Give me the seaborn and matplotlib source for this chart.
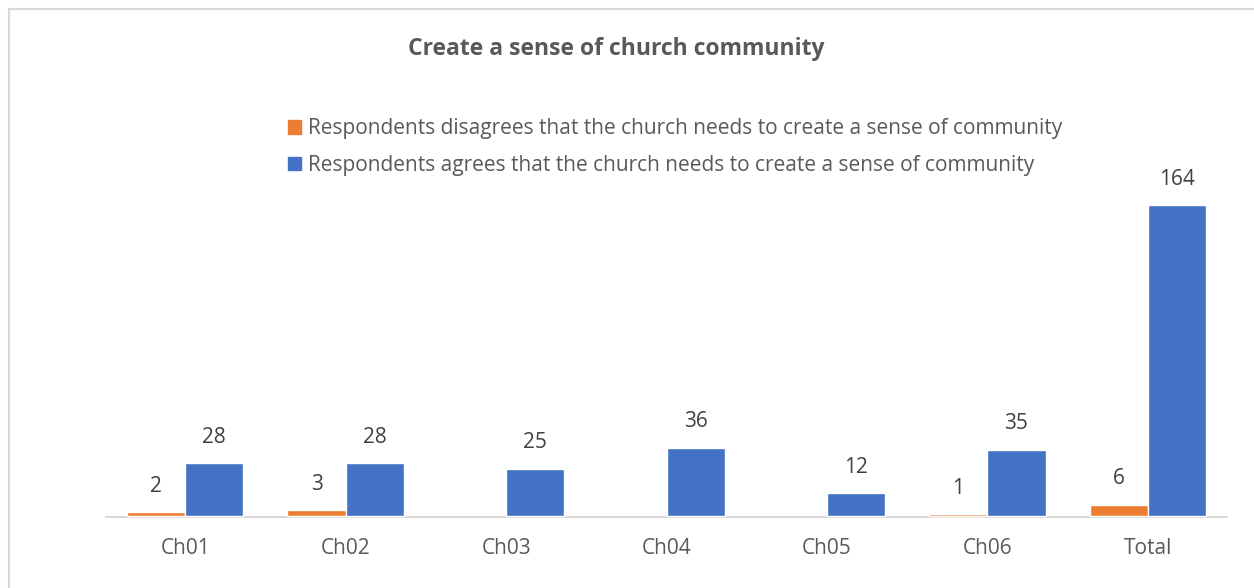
import matplotlib
matplotlib.use("Agg")
import matplotlib.pyplot as plt
import seaborn as sns
import pandas as pd
import numpy as np
from matplotlib.patches import Rectangle

categories = ["Ch01", "Ch02", "Ch03", "Ch04", "Ch05", "Ch06", "Total"]
disagree = [2, 3, np.nan, np.nan, np.nan, 1, 6]
agree = [28, 28, 25, 36, 12, 35, 164]
series_names = [
    "Respondents disagrees that the church needs to create a sense of community",
    "Respondents agrees that the church needs to create a sense of community",
]
title = "Create a sense of church community"

df = pd.DataFrame({
    "cat": categories * 2,
    "val": disagree + agree,
    "series": [series_names[0]] * len(categories) + [series_names[1]] * len(categories),
})

sns.set_theme(style="white")
plt.rcParams["font.family"] = ["Open Sans", "DejaVu Sans"]
text_color = "#595959"

fig = plt.figure(figsize=(12.54, 5.88), dpi=100)
fig.patches.append(Rectangle((9 / 1254, -0.1), 1.2, 1.1 - 9 / 588, transform=fig.transFigure,
                             fill=False, edgecolor="#d9d9d9", linewidth=1.5))
ax = fig.add_axes([105 / 1254, 70.5 / 588, (1228 - 105) / 1254, (516 - 180) / 588])

palette = {series_names[0]: "#ED7D31", series_names[1]: "#4472C4"}
sns.barplot(data=df, x="cat", y="val", hue="series", hue_order=series_names,
            order=categories, palette=palette, width=0.725, ax=ax,
            saturation=1, legend=False, errorbar=None, zorder=2)

for cont in ax.containers:
    labels = ["" if np.isnan(v) else f"{int(v)}" for v in cont.datavalues]
    ax.bar_label(cont, labels=labels, padding=11, fontsize=15, color="#404040")

ax.set_ylim(-0.8, 176.4)
ax.set_xlim(-0.5, len(categories) - 0.5)
ax.axhline(-0.45, color="#d9d9d9", linewidth=1.5, zorder=1)
ax.set_xlabel("")
ax.set_ylabel("")
ax.set_yticks([])
for s in ["top", "left", "right", "bottom"]:
    ax.spines[s].set_visible(False)
ax.tick_params(axis="x", labelsize=15, labelcolor=text_color, length=0, pad=15)

fig.text(616 / 1254, 1 - 49 / 588, title, ha="center", va="center", fontsize=16.5,
         fontweight="bold", color=text_color)

handles = [Rectangle((0, 0), 1, 1, color=palette[n]) for n in series_names]
leg = fig.legend(handles, series_names, loc="upper left",
                 bbox_to_anchor=(280 / 1254, 1 - 110 / 588), frameon=False,
                 fontsize=15, handlelength=0.6, handleheight=0.6, handletextpad=0.35,
                 labelspacing=0.75, borderaxespad=0)
for t in leg.get_texts():
    t.set_color(text_color)

fig.savefig("out.png", dpi=100)
